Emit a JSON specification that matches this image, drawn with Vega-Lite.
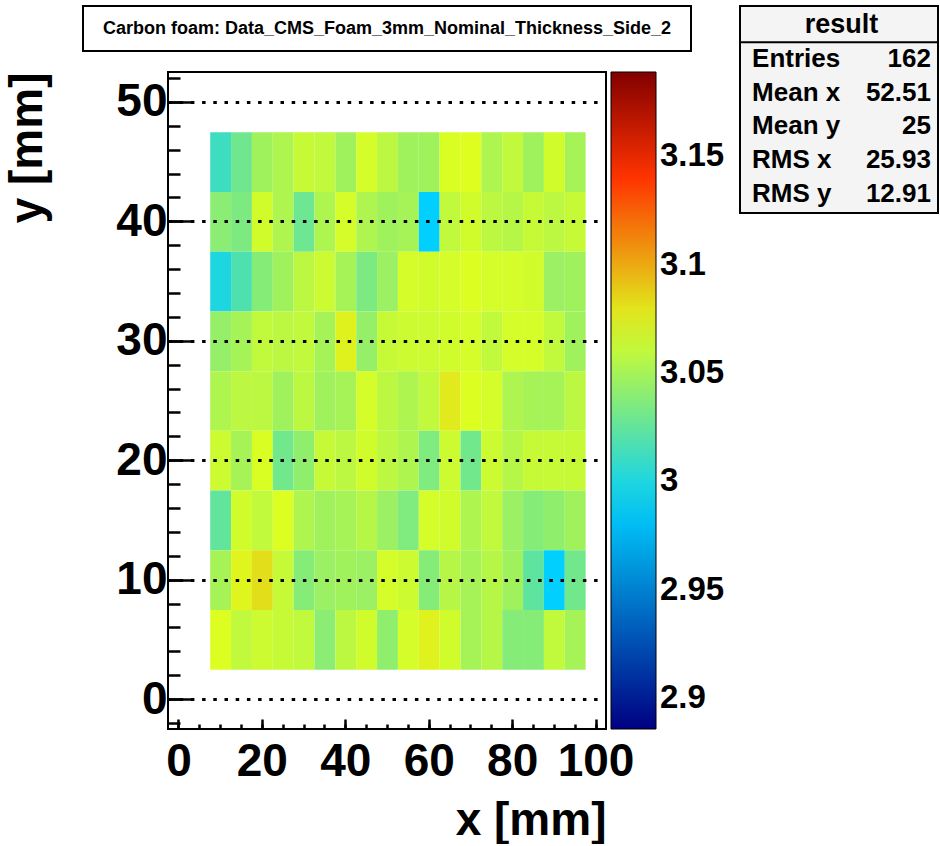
{
  "$schema": "https://vega.github.io/schema/vega-lite/v6.json",
  "background": "white",
  "padding": {"left": 3, "top": 5, "right": 0, "bottom": 0},
  "config": {"font": "Liberation Sans", "view": {"stroke": null}},
  "resolve": {"scale": {"color": "independent"}, "legend": {"color": "independent"}},
  "spacing": 12,
  "hconcat": [
    {
      "bounds": "flush",
      "center": true,
      "spacing": 21,
      "resolve": {"scale": {"color": "independent"}, "legend": {"color": "independent"}},
      "vconcat": [
        {
          "width": 608,
          "height": 45,
          "view": {"stroke": "black", "strokeWidth": 2},
          "data": {"values": [{"t": "Carbon foam: Data_CMS_Foam_3mm_Nominal_Thickness_Side_2"}]},
          "mark": {"type": "text", "fontSize": 18, "fontWeight": "bold", "color": "black"},
          "encoding": {"text": {"field": "t"}}
        },
        {
          "width": 438,
          "height": 657,
          "view": {"stroke": "black", "strokeWidth": 2},
          "data": {"values": [
{"x":10,"y":45,"z":3.012},{"x":15,"y":45,"z":3.03},{"x":20,"y":45,"z":3.048},{"x":25,"y":45,"z":3.053},{"x":30,"y":45,"z":3.062},{"x":35,"y":45,"z":3.06},{"x":40,"y":45,"z":3.048},{"x":45,"y":45,"z":3.067},{"x":50,"y":45,"z":3.058},{"x":55,"y":45,"z":3.048},{"x":60,"y":45,"z":3.048},{"x":65,"y":45,"z":3.069},{"x":70,"y":45,"z":3.071},{"x":75,"y":45,"z":3.053},{"x":80,"y":45,"z":3.06},{"x":85,"y":45,"z":3.048},{"x":90,"y":45,"z":3.066},{"x":95,"y":45,"z":3.05},
{"x":10,"y":40,"z":3.04},{"x":15,"y":40,"z":3.035},{"x":20,"y":40,"z":3.066},{"x":25,"y":40,"z":3.053},{"x":30,"y":40,"z":3.029},{"x":35,"y":40,"z":3.053},{"x":40,"y":40,"z":3.067},{"x":45,"y":40,"z":3.053},{"x":50,"y":40,"z":3.048},{"x":55,"y":40,"z":3.05},{"x":60,"y":40,"z":2.989},{"x":65,"y":40,"z":3.06},{"x":70,"y":40,"z":3.066},{"x":75,"y":40,"z":3.058},{"x":80,"y":40,"z":3.056},{"x":85,"y":40,"z":3.062},{"x":90,"y":40,"z":3.058},{"x":95,"y":40,"z":3.062},
{"x":10,"y":35,"z":3.0},{"x":15,"y":35,"z":3.018},{"x":20,"y":35,"z":3.038},{"x":25,"y":35,"z":3.048},{"x":30,"y":35,"z":3.058},{"x":35,"y":35,"z":3.064},{"x":40,"y":35,"z":3.05},{"x":45,"y":35,"z":3.035},{"x":50,"y":35,"z":3.046},{"x":55,"y":35,"z":3.067},{"x":60,"y":35,"z":3.066},{"x":65,"y":35,"z":3.067},{"x":70,"y":35,"z":3.07},{"x":75,"y":35,"z":3.067},{"x":80,"y":35,"z":3.067},{"x":85,"y":35,"z":3.066},{"x":90,"y":35,"z":3.046},{"x":95,"y":35,"z":3.048},
{"x":10,"y":30,"z":3.044},{"x":15,"y":30,"z":3.05},{"x":20,"y":30,"z":3.06},{"x":25,"y":30,"z":3.058},{"x":30,"y":30,"z":3.06},{"x":35,"y":30,"z":3.05},{"x":40,"y":30,"z":3.075},{"x":45,"y":30,"z":3.044},{"x":50,"y":30,"z":3.062},{"x":55,"y":30,"z":3.064},{"x":60,"y":30,"z":3.064},{"x":65,"y":30,"z":3.066},{"x":70,"y":30,"z":3.067},{"x":75,"y":30,"z":3.06},{"x":80,"y":30,"z":3.067},{"x":85,"y":30,"z":3.067},{"x":90,"y":30,"z":3.06},{"x":95,"y":30,"z":3.048},
{"x":10,"y":25,"z":3.053},{"x":15,"y":25,"z":3.058},{"x":20,"y":25,"z":3.058},{"x":25,"y":25,"z":3.048},{"x":30,"y":25,"z":3.058},{"x":35,"y":25,"z":3.048},{"x":40,"y":25,"z":3.05},{"x":45,"y":25,"z":3.067},{"x":50,"y":25,"z":3.058},{"x":55,"y":25,"z":3.053},{"x":60,"y":25,"z":3.06},{"x":65,"y":25,"z":3.078},{"x":70,"y":25,"z":3.07},{"x":75,"y":25,"z":3.067},{"x":80,"y":25,"z":3.053},{"x":85,"y":25,"z":3.05},{"x":90,"y":25,"z":3.05},{"x":95,"y":25,"z":3.058},
{"x":10,"y":20,"z":3.064},{"x":15,"y":20,"z":3.05},{"x":20,"y":20,"z":3.069},{"x":25,"y":20,"z":3.031},{"x":30,"y":20,"z":3.042},{"x":35,"y":20,"z":3.062},{"x":40,"y":20,"z":3.058},{"x":45,"y":20,"z":3.066},{"x":50,"y":20,"z":3.058},{"x":55,"y":20,"z":3.053},{"x":60,"y":20,"z":3.036},{"x":65,"y":20,"z":3.064},{"x":70,"y":20,"z":3.031},{"x":75,"y":20,"z":3.064},{"x":80,"y":20,"z":3.056},{"x":85,"y":20,"z":3.062},{"x":90,"y":20,"z":3.062},{"x":95,"y":20,"z":3.062},
{"x":10,"y":15,"z":3.025},{"x":15,"y":15,"z":3.066},{"x":20,"y":15,"z":3.06},{"x":25,"y":15,"z":3.07},{"x":30,"y":15,"z":3.053},{"x":35,"y":15,"z":3.048},{"x":40,"y":15,"z":3.05},{"x":45,"y":15,"z":3.056},{"x":50,"y":15,"z":3.046},{"x":55,"y":15,"z":3.036},{"x":60,"y":15,"z":3.067},{"x":65,"y":15,"z":3.066},{"x":70,"y":15,"z":3.053},{"x":75,"y":15,"z":3.06},{"x":80,"y":15,"z":3.046},{"x":85,"y":15,"z":3.038},{"x":90,"y":15,"z":3.042},{"x":95,"y":15,"z":3.048},
{"x":10,"y":10,"z":3.05},{"x":15,"y":10,"z":3.074},{"x":20,"y":10,"z":3.082},{"x":25,"y":10,"z":3.062},{"x":30,"y":10,"z":3.038},{"x":35,"y":10,"z":3.046},{"x":40,"y":10,"z":3.048},{"x":45,"y":10,"z":3.046},{"x":50,"y":10,"z":3.067},{"x":55,"y":10,"z":3.064},{"x":60,"y":10,"z":3.038},{"x":65,"y":10,"z":3.056},{"x":70,"y":10,"z":3.05},{"x":75,"y":10,"z":3.056},{"x":80,"y":10,"z":3.048},{"x":85,"y":10,"z":3.024},{"x":90,"y":10,"z":2.989},{"x":95,"y":10,"z":3.031},
{"x":10,"y":5,"z":3.07},{"x":15,"y":5,"z":3.06},{"x":20,"y":5,"z":3.064},{"x":25,"y":5,"z":3.062},{"x":30,"y":5,"z":3.06},{"x":35,"y":5,"z":3.04},{"x":40,"y":5,"z":3.058},{"x":45,"y":5,"z":3.066},{"x":50,"y":5,"z":3.042},{"x":55,"y":5,"z":3.067},{"x":60,"y":5,"z":3.075},{"x":65,"y":5,"z":3.066},{"x":70,"y":5,"z":3.05},{"x":75,"y":5,"z":3.056},{"x":80,"y":5,"z":3.038},{"x":85,"y":5,"z":3.038},{"x":90,"y":5,"z":3.06},{"x":95,"y":5,"z":3.05}
          ]},
          "resolve": {"axis": {"x": "independent", "y": "independent"}},
          "layer": [
            {
              "mark": {"type": "rect"},
              "encoding": {
                "x": {
                  "field": "x", "type": "quantitative",
                  "bin": {"extent": [-2.5, 102.5], "step": 5, "nice": false},
                  "scale": {"domain": [-2.5, 102.5], "nice": false, "zero": false},
                  "axis": {
                    "orient": "bottom", "title": "x [mm]", "values": [0, 20, 40, 60, 80, 100],
                    "format": "d", "labelFlush": false, "domain": false, "grid": false,
                    "tickSize": -10, "tickWidth": 2.5, "tickColor": "black",
                    "labelPadding": 20, "labelFontSize": 46, "labelFontWeight": "bold", "labelColor": "black",
                    "titleFontSize": 46, "titleFontWeight": "bold", "titleColor": "black",
                    "titleAnchor": "end", "titleAlign": "right", "titlePadding": 14
                  }
                },
                "y": {
                  "field": "y", "type": "quantitative",
                  "bin": {"extent": [-2.5, 52.5], "step": 5, "nice": false},
                  "scale": {"domain": [-2.5, 52.5], "nice": false, "zero": false},
                  "axis": {
                    "orient": "left", "title": "y [mm]", "values": [0, 10, 20, 30, 40, 50],
                    "format": "d", "labelFlush": false, "domain": false, "zindex": 1,
                    "grid": true, "gridColor": "black", "gridOpacity": 1, "gridWidth": 3, "gridDash": [3.5, 7.7],
                    "tickSize": -23, "tickWidth": 2.5, "tickColor": "black",
                    "labelPadding": 24, "labelFontSize": 46, "labelFontWeight": "bold", "labelColor": "black",
                    "titleFontSize": 46, "titleFontWeight": "bold", "titleColor": "black",
                    "titleAnchor": "end", "titlePadding": 64
                  }
                },
                "color": {
                  "field": "z", "type": "quantitative",
                  "scale": {
                    "domain": [2.8857, 2.9888, 3.0707, 3.1405, 3.189],
                    "range": ["#000082", "#00cfff", "#deff1f", "#ff3300", "#820000"],
                    "interpolate": "rgb"
                  },
                  "legend": {
                    "orient": "right", "offset": 5, "title": null, "padding": 0,
                    "gradientLength": 657, "gradientThickness": 45,
                    "gradientStrokeColor": "black", "gradientStrokeWidth": 1,
                    "values": [2.9, 2.95, 3, 3.05, 3.1, 3.15], "format": ".3~f",
                    "labelFontSize": 33, "labelFontWeight": "bold", "labelColor": "black",
                    "labelOffset": 4, "labelOverlap": false
                  }
                }
              }
            },
            {
              "mark": {"type": "point", "opacity": 0},
              "encoding": {
                "x": {
                  "field": "x", "type": "quantitative",
                  "axis": {
                    "orient": "bottom", "title": null, "labels": false, "domain": false, "grid": false,
                    "values": [0, 5, 10, 15, 20, 25, 30, 35, 40, 45, 50, 55, 60, 65, 70, 75, 80, 85, 90, 95, 100],
                    "tickSize": -5, "tickWidth": 2.5, "tickColor": "black"
                  }
                },
                "y": {
                  "field": "y", "type": "quantitative",
                  "axis": {
                    "orient": "left", "title": null, "labels": false, "domain": false, "grid": false,
                    "values": [-2, 0, 2, 4, 6, 8, 10, 12, 14, 16, 18, 20, 22, 24, 26, 28, 30, 32, 34, 36, 38, 40, 42, 44, 46, 48, 50, 52],
                    "tickSize": -12, "tickWidth": 2.5, "tickColor": "black"
                  }
                }
              }
            }
          ]
        }
      ]
    },
    {
      "width": 198,
      "height": 207,
      "view": {"stroke": "black", "strokeWidth": 2, "fill": "#f4f4f4"},
      "data": {"values": [
        {"k": "result", "v": ""},
        {"k": "Entries", "v": "162"},
        {"k": "Mean x", "v": "52.51"},
        {"k": "Mean y", "v": "25"},
        {"k": "RMS x", "v": "25.93"},
        {"k": "RMS y", "v": "12.91"}
      ]},
      "layer": [
        {
          "transform": [{"filter": "datum.k === 'result'"}],
          "mark": {"type": "rule", "color": "black", "strokeWidth": 2},
          "encoding": {
            "y": {"field": "k", "type": "nominal", "sort": null, "bandPosition": 1,
                  "scale": {"type": "band", "domain": ["result", "Entries", "Mean x", "Mean y", "RMS x", "RMS y"], "paddingInner": 0, "paddingOuter": 0.08}, "axis": null}
          }
        },
        {
          "transform": [{"filter": "datum.k === 'result'"}],
          "mark": {"type": "text", "fontSize": 27, "fontWeight": "bold", "color": "black", "baseline": "middle"},
          "encoding": {
            "x": {"datum": 0.5, "type": "quantitative", "scale": {"domain": [-0.0674, 1.0393], "nice": false, "zero": false}, "axis": null},
            "y": {"field": "k", "type": "nominal", "sort": null, "bandPosition": 0.5, "axis": null},
            "text": {"field": "k"}
          }
        },
        {
          "transform": [{"filter": "datum.k !== 'result'"}],
          "mark": {"type": "text", "fontSize": 26, "fontWeight": "bold", "color": "black", "align": "left", "baseline": "middle"},
          "encoding": {
            "x": {"datum": 0, "type": "quantitative", "scale": {"domain": [-0.0674, 1.0393], "nice": false, "zero": false}, "axis": null},
            "y": {"field": "k", "type": "nominal", "sort": null, "bandPosition": 0.5, "axis": null},
            "text": {"field": "k"}
          }
        },
        {
          "transform": [{"filter": "datum.k !== 'result'"}],
          "mark": {"type": "text", "fontSize": 26, "fontWeight": "bold", "color": "black", "align": "right", "baseline": "middle"},
          "encoding": {
            "x": {"datum": 1, "type": "quantitative", "scale": {"domain": [-0.0674, 1.0393], "nice": false, "zero": false}, "axis": null},
            "y": {"field": "k", "type": "nominal", "sort": null, "bandPosition": 0.5, "axis": null},
            "text": {"field": "v"}
          }
        }
      ]
    }
  ]
}
